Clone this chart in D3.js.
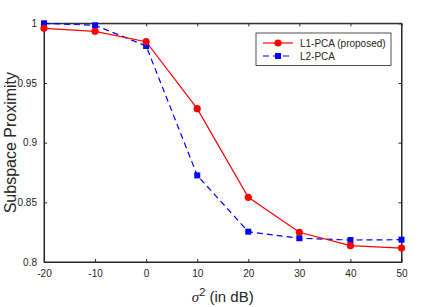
<!DOCTYPE html>
<html>
<head>
<meta charset="utf-8">
<script src="https://cdn.jsdelivr.net/npm/d3@7"></script>
<style>
  body { margin: 0; background: #fff; }
  text { font-family: "Liberation Sans", Arial, sans-serif; }
</style>
</head>
<body>
<svg id="chart" width="434" height="307"></svg>
<script>
// data ************************************************************
var noiseDb = [-20, -10, 0, 10, 20, 30, 40, 50];
var l1Pca = [0.9958, 0.9933, 0.9846, 0.9285, 0.8542, 0.8249, 0.8137, 0.8117];
var l2Pca = [1.0, 0.9983, 0.981, 0.8726, 0.8254, 0.8199, 0.8184, 0.8187];
var xTicks = [-20, -10, 0, 10, 20, 30, 40, 50];
var yTicks = [0.8, 0.85, 0.9, 0.95, 1];
var seriesNames = ["L1-PCA (proposed)", "L2-PCA"];

// layout ************************************************************
var plotLeft = 44, plotRight = 401.5, plotTop = 23.3, plotBottom = 262;
var axisColor = "#262626";

var svg = d3.select("#chart");

var x = d3.scaleLinear().domain([-20, 50]).range([plotLeft, plotRight]);
var y = d3.scaleLinear().domain([0.8, 1]).range([plotBottom, plotTop]);

// axes (ticks inside, mirrored) ************************************************************
var tickFmt = function(d) { return String(d); };

svg.append("g")
  .attr("transform", "translate(0," + plotBottom + ")")
  .call(d3.axisBottom(x).tickValues(xTicks).tickSizeInner(-3).tickSizeOuter(0).tickPadding(8).tickFormat(tickFmt));
svg.append("g")
  .attr("transform", "translate(0," + plotTop + ")")
  .call(d3.axisTop(x).tickValues(xTicks).tickSizeInner(-3).tickSizeOuter(0).tickFormat(""));
svg.append("g")
  .attr("transform", "translate(" + plotLeft + ",0)")
  .call(d3.axisLeft(y).tickValues(yTicks).tickSizeInner(-3).tickSizeOuter(0).tickPadding(7).tickFormat(tickFmt));
svg.append("g")
  .attr("transform", "translate(" + plotRight + ",0)")
  .call(d3.axisRight(y).tickValues(yTicks).tickSizeInner(-3).tickSizeOuter(0).tickFormat(""));

svg.selectAll(".domain").attr("stroke", axisColor);
svg.selectAll(".tick line").attr("stroke", axisColor);
svg.selectAll(".tick text")
  .attr("fill", axisColor)
  .style("font-family", "'Liberation Sans', Arial, sans-serif")
  .style("font-size", "10px");

// box
svg.append("rect")
  .attr("x", plotLeft).attr("y", plotTop)
  .attr("width", plotRight - plotLeft).attr("height", plotBottom - plotTop)
  .attr("fill", "none").attr("stroke", axisColor).attr("stroke-width", 1);

// lines ************************************************************
var lineFor = function(vals) {
  return d3.line()
    .x(function(d, i) { return x(noiseDb[i]); })
    .y(function(d) { return y(d); })(vals);
};

svg.append("path")
  .attr("d", lineFor(l2Pca))
  .attr("fill", "none")
  .attr("stroke", "#0000ff")
  .attr("stroke-width", 1.2)
  .attr("stroke-dasharray", "6,4");

svg.append("path")
  .attr("d", lineFor(l1Pca))
  .attr("fill", "none")
  .attr("stroke", "#ff0000")
  .attr("stroke-width", 1.2);

svg.selectAll(".sq")
  .data(l2Pca)
  .enter()
  .append("rect")
  .attr("class", "sq")
  .attr("x", function(d, i) { return x(noiseDb[i]) - 3; })
  .attr("y", function(d) { return y(d) - 3; })
  .attr("width", 6).attr("height", 6)
  .attr("fill", "#0000ff");

svg.selectAll(".dot")
  .data(l1Pca)
  .enter()
  .append("circle")
  .attr("class", "dot")
  .attr("cx", function(d, i) { return x(noiseDb[i]); })
  .attr("cy", function(d) { return y(d); })
  .attr("r", 3.6)
  .attr("fill", "#ff0000");

// legend ************************************************************
var legend = svg.append("g").attr("transform", "translate(256,33)");
legend.append("rect")
  .attr("width", 135).attr("height", 32.5)
  .attr("fill", "#fff").attr("stroke", axisColor).attr("stroke-width", 0.8);

var rows = legend.selectAll(".legend")
  .data(seriesNames)
  .enter()
  .append("g")
  .attr("class", "legend")
  .attr("transform", function(d, i) { return "translate(0," + (10 + i * 13) + ")"; });

rows.append("line")
  .attr("x1", 7).attr("x2", 37)
  .attr("stroke", function(d, i) { return i === 0 ? "#ff0000" : "#0000ff"; })
  .attr("stroke-width", 1.2)
  .attr("stroke-dasharray", function(d, i) { return i === 0 ? null : "6,4"; });

rows.each(function(d, i) {
  var g = d3.select(this);
  if (i === 0) {
    g.append("circle").attr("cx", 22).attr("r", 3.6).attr("fill", "#ff0000");
  } else {
    g.append("rect").attr("x", 19).attr("y", -3).attr("width", 6).attr("height", 6).attr("fill", "#0000ff");
  }
});

rows.append("text")
  .attr("x", 44).attr("dy", "0.35em")
  .style("font-size", "10px")
  .attr("fill", axisColor)
  .text(function(d) { return d; });

// axis labels ************************************************************
svg.append("text")
  .attr("transform", "translate(16," + ((plotTop + plotBottom) / 2) + ") rotate(-90)")
  .attr("text-anchor", "middle")
  .style("font-size", "16px")
  .attr("fill", axisColor)
  .text("Subspace Proximity");

var xl = svg.append("text")
  .attr("x", (plotLeft + plotRight) / 2)
  .attr("y", 302)
  .attr("text-anchor", "middle")
  .style("font-size", "15px")
  .attr("fill", axisColor);
xl.append("tspan")
  .style("font-family", "'Liberation Serif', 'Times New Roman', serif")
  .style("font-style", "italic")
  .text("\u03c3");
xl.append("tspan").attr("dy", -6).style("font-size", "11px").text("2");
xl.append("tspan").attr("dy", 6).text(" (in dB)");
</script>
</body>
</html>
